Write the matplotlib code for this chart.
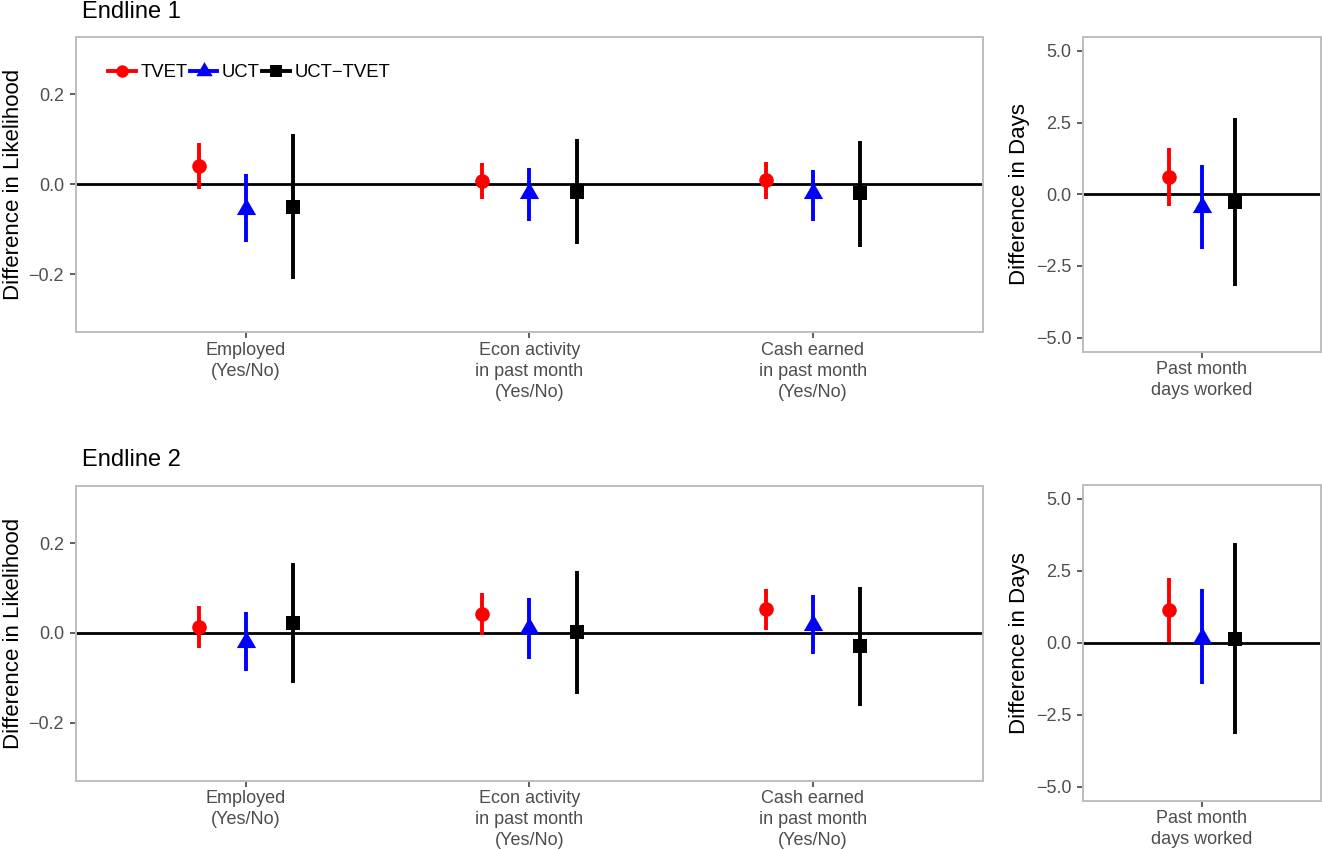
import matplotlib
matplotlib.use("Agg")
import matplotlib.pyplot as plt
from matplotlib.lines import Line2D
import numpy as np

plt.rcParams['font.family'] = ['Liberation Sans', 'DejaVu Sans']

# ---------------- data ----------------
categories = ["Employed\n(Yes/No)", "Econ activity\nin past month\n(Yes/No)",
              "Cash earned\nin past month\n(Yes/No)"]
days_categories = ["Past month\ndays worked"]
groups = ["TVET", "UCT", "UCT\u2212TVET"]

# Endline 1 - likelihood outcomes
e1_tvet_est = [0.041, 0.008, 0.009]
e1_tvet_lo = [-0.011, -0.033, -0.032]
e1_tvet_hi = [0.093, 0.047, 0.049]
e1_uct_est = [-0.054, -0.019, -0.020]
e1_uct_lo = [-0.128, -0.081, -0.082]
e1_uct_hi = [0.024, 0.037, 0.033]
e1_diff_est = [-0.050, -0.016, -0.019]
e1_diff_lo = [-0.210, -0.133, -0.139]
e1_diff_hi = [0.111, 0.101, 0.096]

# Endline 1 - days worked
e1d_tvet_est = [0.62]
e1d_tvet_lo = [-0.40]
e1d_tvet_hi = [1.60]
e1d_uct_est = [-0.44]
e1d_uct_lo = [-1.91]
e1d_uct_hi = [1.02]
e1d_diff_est = [-0.26]
e1d_diff_lo = [-3.20]
e1d_diff_hi = [2.67]

# Endline 2 - likelihood outcomes
e2_tvet_est = [0.013, 0.043, 0.053]
e2_tvet_lo = [-0.033, -0.004, 0.007]
e2_tvet_hi = [0.059, 0.088, 0.097]
e2_uct_est = [-0.020, 0.011, 0.017]
e2_uct_lo = [-0.085, -0.059, -0.048]
e2_uct_hi = [0.047, 0.077, 0.085]
e2_diff_est = [0.022, 0.002, -0.029]
e2_diff_lo = [-0.111, -0.137, -0.162]
e2_diff_hi = [0.155, 0.138, 0.103]

# Endline 2 - days worked
e2d_tvet_est = [1.13]
e2d_tvet_lo = [0.02]
e2d_tvet_hi = [2.27]
e2d_uct_est = [0.16]
e2d_uct_lo = [-1.42]
e2d_uct_hi = [1.88]
e2d_diff_est = [0.14]
e2d_diff_lo = [-3.17]
e2d_diff_hi = [3.48]

lik_ticks = [-0.2, 0.0, 0.2]
lik_ticklabels = ["\u22120.2", "0.0", "0.2"]
days_ticks = [-5.0, -2.5, 0.0, 2.5, 5.0]
days_ticklabels = ["\u22125.0", "\u22122.5", "0.0", "2.5", "5.0"]

# ---------------- style ----------------
colors = ["#FF0000", "#0000FF", "#000000"]
tri = [(0, 1.0), (-0.866, -0.5), (0.866, -0.5)]
markers = ["o", tri, "s"]
msizes = [10.5, 16.0, 10.5]
offsets = [-1/6, 0, 1/6]
border = "#BEBEBE"
ticktext = "#4D4D4D"

W, H = 1322, 849
fig = plt.figure(figsize=(W/100, H/100), dpi=100)


def add_axes_px(l, t, r, b):
    return fig.add_axes([l/W, 1 - b/H, (r - l)/W, (b - t)/H])


def draw_panel(ax, cats, series, ylim, yticks, yticklabels):
    n = len(cats)
    xs = np.arange(1, n + 1)
    ax.axhline(0, color="black", lw=2.0, zorder=1)
    for (est, lo, hi), c, m, ms, off in zip(series, colors, markers, msizes, offsets):
        est = np.array(est); lo = np.array(lo); hi = np.array(hi)
        x = xs + off
        ax.vlines(x, lo, hi, color=c, lw=2.8, zorder=2)
        ax.plot(x, est, linestyle="none", marker=m, markersize=ms, color=c,
                markeredgewidth=0, zorder=3)
    ax.set_xlim(0.4, n + 0.6)
    ax.set_ylim(*ylim)
    ax.set_xticks(xs)
    ax.set_xticklabels(cats, fontsize=13, color=ticktext, linespacing=1.3)
    ax.set_yticks(yticks)
    ax.set_yticklabels(yticklabels, fontsize=13, color=ticktext)
    ax.tick_params(axis="both", length=4.5, width=1.1, color="#333333")
    ax.tick_params(axis="y", pad=4.0)
    ax.tick_params(axis="x", pad=2.5)
    for s in ax.spines.values():
        s.set_color(border)
        s.set_linewidth(1.4)
    ax.grid(False)


# ---- Endline 1 ----
ax1 = add_axes_px(75.8, 37.3, 983, 332.3)
draw_panel(ax1, categories,
           [(e1_tvet_est, e1_tvet_lo, e1_tvet_hi),
            (e1_uct_est, e1_uct_lo, e1_uct_hi),
            (e1_diff_est, e1_diff_lo, e1_diff_hi)],
           (-0.329, 0.327), lik_ticks, lik_ticklabels)

ax2 = add_axes_px(1083, 37.3, 1320.5, 351.7)
draw_panel(ax2, days_categories,
           [(e1d_tvet_est, e1d_tvet_lo, e1d_tvet_hi),
            (e1d_uct_est, e1d_uct_lo, e1d_uct_hi),
            (e1d_diff_est, e1d_diff_lo, e1d_diff_hi)],
           (-5.49, 5.476), days_ticks, days_ticklabels)

# ---- Endline 2 ----
ax3 = add_axes_px(75.8, 486, 983, 780.7)
draw_panel(ax3, categories,
           [(e2_tvet_est, e2_tvet_lo, e2_tvet_hi),
            (e2_uct_est, e2_uct_lo, e2_uct_hi),
            (e2_diff_est, e2_diff_lo, e2_diff_hi)],
           (-0.329, 0.327), lik_ticks, lik_ticklabels)

ax4 = add_axes_px(1083, 485.3, 1320.5, 800.7)
draw_panel(ax4, days_categories,
           [(e2d_tvet_est, e2d_tvet_lo, e2d_tvet_hi),
            (e2d_uct_est, e2d_uct_lo, e2d_uct_hi),
            (e2d_diff_est, e2d_diff_lo, e2d_diff_hi)],
           (-5.49, 5.476), days_ticks, days_ticklabels)

# ---- titles & axis titles ----
fig.text(82/W, 1 - 17.5/H, "Endline 1", fontsize=17, ha="left", va="baseline")
fig.text(82/W, 1 - 466/H, "Endline 2", fontsize=17, ha="left", va="baseline")

for (xb, yc, txt) in [(19, 184.8, "Difference in Likelihood"),
                      (1025, 194.5, "Difference in Days"),
                      (19, 633.4, "Difference in Likelihood"),
                      (1025, 643, "Difference in Days")]:
    fig.text(xb/W, 1 - yc/H, txt, fontsize=16, rotation=90, rotation_mode="anchor",
             ha="center", va="baseline")

# ---- legend ----
handles = [Line2D([0], [0], color=c, lw=2.8, marker=m, markersize=ms * 0.85,
                  markeredgewidth=0)
           for c, m, ms in zip(colors, markers, msizes)]
ax1.legend(handles, groups, loc="center left", bbox_to_anchor=(0.0355, 0.88),
           ncol=3, frameon=False, fontsize=13.3, handlelength=1.5,
           handletextpad=0.25, columnspacing=0.12, borderpad=0, borderaxespad=0)

fig.savefig("out.png", dpi=100)
